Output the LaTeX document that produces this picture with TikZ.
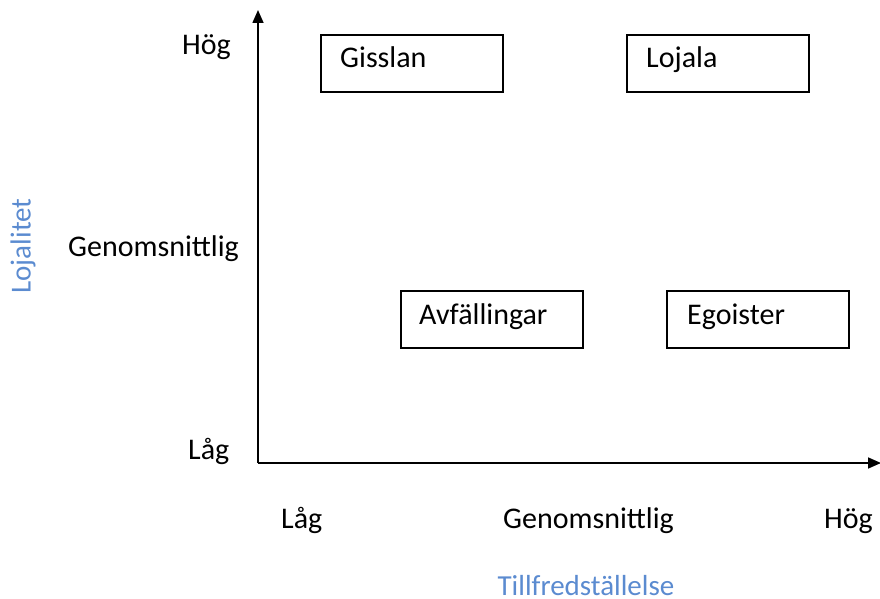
\documentclass[tikz,border=0pt]{standalone}
\usepackage{fontspec}
\setmainfont{Carlito}
\usetikzlibrary{arrows.meta}
\definecolor{axisblue}{HTML}{5B8BD0}
\begin{document}
\begin{tikzpicture}[x=1pt,y=-1pt,
  lbl/.style={font=\fontsize{30}{34}\selectfont, inner sep=0pt, anchor=base west},
  ttl/.style={font=\fontsize{29}{33}\selectfont, inner sep=0pt, text=axisblue},
  quad/.style={draw=black, line width=1.6pt, minimum width=182pt, minimum height=57pt, inner sep=0pt, anchor=north west},
  axis/.style={line width=1.6pt, -{Triangle[length=13pt,width=11pt]}}]
\useasboundingbox (0,0) rectangle (880,599);
% axes
\coordinate (O) at (258,463);
\coordinate (Ytop) at (258,10);
\coordinate (Xend) at (881,463);
\draw[axis] (O) -- (Ytop);
\draw[axis] (O) -- (Xend);
% boxes
\node[quad] (gis) at (320,34) {};
\node[quad] (loj) at (626,34) {};
\node[quad] (avf) at (400,290) {};
\node[quad] (ego) at (666,290) {};
\node[lbl] (tgis) at (340,68) {Gisslan};
\node[lbl] (tloj) at (646,68) {Lojala};
\node[lbl] (tavf) at (419,324) {Avfällingar};
\node[lbl] (tego) at (687,324) {Egoister};
% y labels
\node[lbl] (yh) at (182,55) {Hög};
\node[lbl] (ym) at (68,256) {Genomsnittlig};
\node[lbl] (yl) at (188,459) {Låg};
% x labels
\node[lbl] (xl) at (281,528) {Låg};
\node[lbl] (xm) at (503,528) {Genomsnittlig};
\node[lbl] (xh) at (824,528) {Hög};
% titles
\node[ttl, rotate=90] (ytitle) at (23,246) {Lojalitet};
\node[ttl, anchor=base] (xtitle) at (586,595) {Tillfredställelse};
\end{tikzpicture}
\end{document}
